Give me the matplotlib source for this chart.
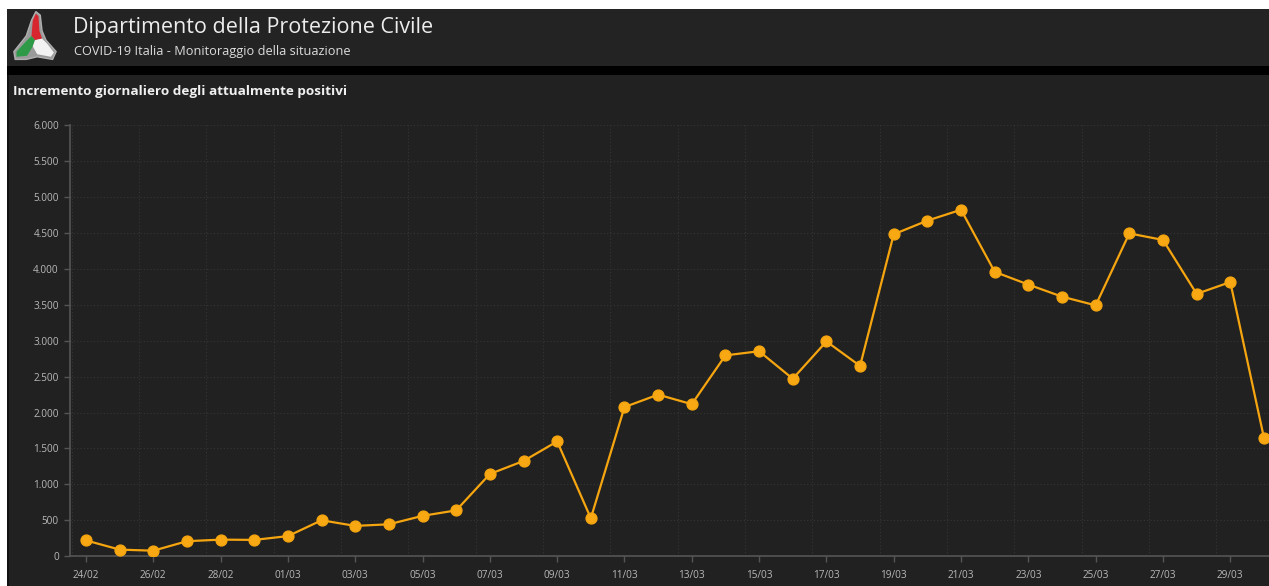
import numpy as np
import matplotlib
matplotlib.use('Agg')
import matplotlib.pyplot as plt
from matplotlib.patches import Rectangle, Polygon
from matplotlib.ticker import FuncFormatter, FixedLocator

# Data
dates = ['24/02', '25/02', '26/02', '27/02', '28/02', '29/02',
         '01/03', '02/03', '03/03', '04/03', '05/03', '06/03', '07/03', '08/03',
         '09/03', '10/03', '11/03', '12/03', '13/03', '14/03', '15/03', '16/03',
         '17/03', '18/03', '19/03', '20/03', '21/03', '22/03', '23/03', '24/03',
         '25/03', '26/03', '27/03', '28/03', '29/03', '30/03']
incremento = [221, 93, 78, 210, 232, 228,
              281, 501, 423, 445, 563, 639, 1145, 1326,
              1598, 529, 2076, 2249, 2116, 2795, 2853, 2470,
              2989, 2648, 4480, 4670, 4821, 3957, 3780, 3612,
              3491, 4492, 4401, 3651, 3815, 1648]
yticks = [0, 500, 1000, 1500, 2000, 2500, 3000, 3500, 4000, 4500, 5000, 5500, 6000]

W, H = 1269, 586
dpi = 100
fig = plt.figure(figsize=(W / dpi, H / dpi), dpi=dpi, facecolor='white')
plt.rcParams['font.family'] = ['Open Sans', 'DejaVu Sans']


def px_rect(x0, y0, x1, y1, color):
    """Rectangle in pixel coords (top-left origin)."""
    fig.patches.append(Rectangle((x0 / W, 1 - y1 / H), (x1 - x0) / W, (y1 - y0) / H,
                                 transform=fig.transFigure, facecolor=color,
                                 edgecolor='none', zorder=-5))


# Background blocks
px_rect(7, 9, W, 66, '#232323')
px_rect(7, 66, W, 75, '#000000')
px_rect(7, 75, W, H, '#212121')
px_rect(7, 75, 9, H, '#111111')

# Logo
lax = fig.add_axes([13 / W, 1 - 62 / H, 44 / W, 52 / H])
lax.set_xlim(0, 1)
lax.set_ylim(0, 1)
lax.axis('off')
outline = [(0.52, 0.97), (0.62, 0.9), (0.66, 0.6), (0.75, 0.42), (0.98, 0.2), (0.9, 0.05),
           (0.55, 0.1), (0.3, 0.05), (0.05, 0.05), (0.02, 0.2), (0.3, 0.5), (0.42, 0.8)]
lax.add_patch(Polygon(outline, closed=True, facecolor='#9a9a9a', edgecolor='#b0b0b0', lw=1))
red = [(0.52, 0.93), (0.58, 0.88), (0.6, 0.6), (0.66, 0.45), (0.5, 0.42), (0.42, 0.5), (0.45, 0.8)]
lax.add_patch(Polygon(red, closed=True, facecolor='#d8262e', edgecolor='none'))
green = [(0.42, 0.5), (0.5, 0.42), (0.45, 0.3), (0.32, 0.12), (0.08, 0.1), (0.08, 0.2), (0.3, 0.4)]
lax.add_patch(Polygon(green, closed=True, facecolor='#2e9a48', edgecolor='none'))
white = [(0.5, 0.42), (0.66, 0.45), (0.78, 0.35), (0.93, 0.18), (0.86, 0.1), (0.55, 0.15), (0.45, 0.3)]
lax.add_patch(Polygon(white, closed=True, facecolor='#f2f2f2', edgecolor='none'))

# Header texts
fig.text(73 / W, 1 - 27 / H, 'Dipartimento della Protezione Civile', color='#ececec',
         fontsize=15.5, va='center', ha='left')
fig.text(74 / W, 1 - 51 / H, 'COVID-19 Italia - Monitoraggio della situazione', color='#dcdcdc',
         fontsize=9.2, va='center', ha='left')
fig.text(13 / W, 1 - 91 / H, 'Incremento giornaliero degli attualmente positivi', color='#f0f0f0',
         fontsize=9.7, fontweight='bold', va='center', ha='left')

# Chart
x0, y_top, y_bot = 70, 125, 556.3
ax = fig.add_axes([x0 / W, 1 - y_bot / H, (W - x0) / W, (y_bot - y_top) / H])
ax.set_facecolor('none')
x = np.arange(len(dates))
ax.plot(x, incremento, color='#f5a50f', lw=1.6, marker='o', ms=7.8,
        markerfacecolor='#f7a812', markeredgecolor='#f5a50f', zorder=3)

ax.set_ylim(0, 6000)
ax.set_xlim(-0.475, 35.15)
ax.set_yticks(yticks)
ax.yaxis.set_major_formatter(FuncFormatter(lambda v, p: '{:,.0f}'.format(v).replace(',', '.')))
ax.set_xticks(x[::2])
ax.set_xticklabels(dates[::2])

for side in ['top', 'right']:
    ax.spines[side].set_visible(False)
for side in ['left', 'bottom']:
    ax.spines[side].set_color('#555555')
    ax.spines[side].set_linewidth(1.2)
ax.tick_params(colors='#555555', labelcolor='#b8b8b8', labelsize=7.2, length=4, width=1)
ax.tick_params(axis='y', pad=4)
ax.tick_params(axis='x', pad=6)

# dotted grid
ax.xaxis.set_minor_locator(FixedLocator(x[::2] - 0.42))
ax.tick_params(axis='x', which='minor', length=0)
ax.grid(True, which='minor', axis='x', color='#363636', linestyle=(0, (1, 2)), lw=0.8)
ax.grid(True, which='major', axis='y', color='#363636', linestyle=(0, (1, 2)), lw=0.8)
ax.set_axisbelow(True)

fig.savefig('out.png', dpi=dpi, facecolor=fig.get_facecolor())
